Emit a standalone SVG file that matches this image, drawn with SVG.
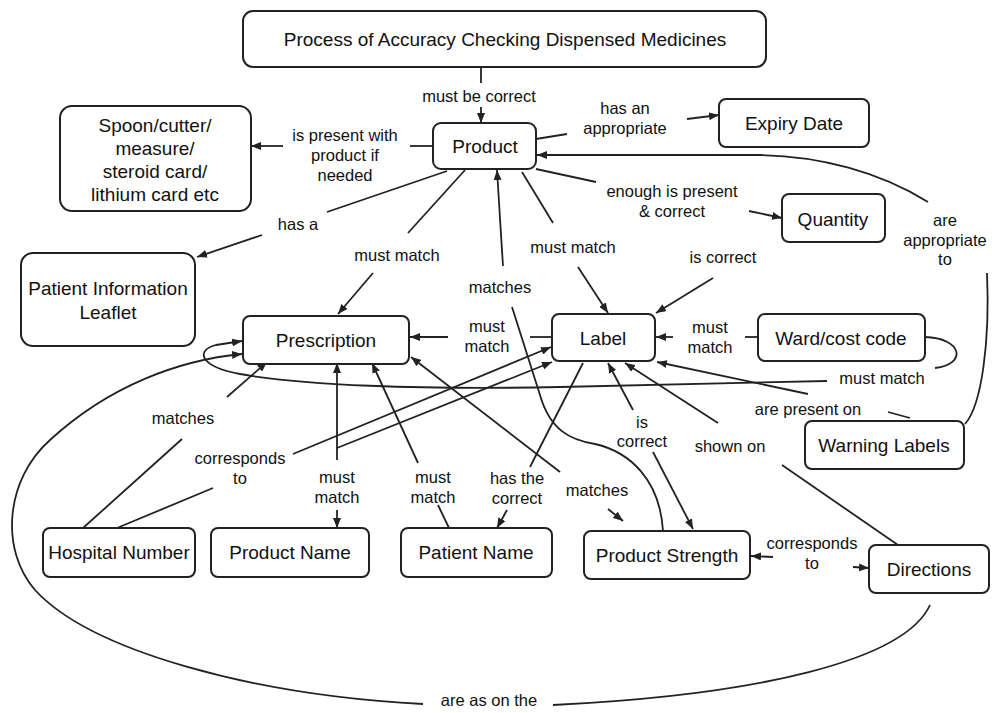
<svg xmlns="http://www.w3.org/2000/svg" width="992" height="713" viewBox="0 0 992 713">
  <style>
    .box { fill: #ffffff; stroke: #222222; stroke-width: 2; }
    .nt { font-family: "Liberation Sans", Arial, sans-serif; font-size: 19px; fill: #111111; text-anchor: middle; }
    .lt { font-family: "Liberation Sans", Arial, sans-serif; font-size: 16.5px; fill: #111111; text-anchor: middle; }
    .ln { fill: none; stroke: #222222; stroke-width: 1.8; }
    .ar { fill: none; stroke: #222222; stroke-width: 1.8; marker-end: url(#tip); }
  </style>
  <defs>
    <marker id="tip" markerUnits="userSpaceOnUse" markerWidth="10" markerHeight="8" refX="10" refY="4" orient="auto">
      <path d="M0,0 L10,4 L0,8 z" fill="#222222"/>
    </marker>
  </defs>
  <rect width="992" height="713" fill="#ffffff"/>

  <!-- connectors and their labels -->
  <g id="connectors">
    <!-- title -> product -->
    <line class="ln" x1="481" y1="68" x2="481" y2="83"/>
    <line class="ar" x1="481" y1="107" x2="481" y2="123"/>
    <text class="lt" x="479" y="102">must be correct</text>

    <!-- product -> spoon/cutter -->
    <line class="ln" x1="433" y1="146" x2="410" y2="146"/>
    <line class="ar" x1="283" y1="146" x2="251" y2="146"/>
    <text class="lt" x="345" y="141">is present with</text>
    <text class="lt" x="345" y="161">product if</text>
    <text class="lt" x="345" y="181">needed</text>

    <!-- product -> expiry date -->
    <line class="ln" x1="536" y1="139" x2="567" y2="134"/>
    <line class="ar" x1="687" y1="119" x2="719" y2="115"/>
    <text class="lt" x="625" y="114">has an</text>
    <text class="lt" x="625" y="134">appropriate</text>

    <!-- product -> quantity -->
    <line class="ln" x1="536" y1="169" x2="596" y2="182"/>
    <line class="ar" x1="749" y1="211" x2="782" y2="218"/>
    <text class="lt" x="672" y="197">enough is present</text>
    <text class="lt" x="672" y="217">&amp; correct</text>

    <!-- warning labels -> product -->
    <path class="ln" d="M965 424 C982 405 990 340 987 273"/>
    <path class="ar" d="M928 202 C880 172 820 156 760 155 L537 155"/>
    <text class="lt" x="945" y="226">are</text>
    <text class="lt" x="945" y="246">appropriate</text>
    <text class="lt" x="945" y="265">to</text>

    <!-- product -> patient information leaflet -->
    <line class="ln" x1="447" y1="171" x2="327" y2="212"/>
    <line class="ar" x1="262" y1="235" x2="197" y2="257"/>
    <text class="lt" x="298" y="230">has a</text>

    <!-- product -> prescription -->
    <line class="ln" x1="465" y1="170" x2="408" y2="233"/>
    <line class="ar" x1="373" y1="273" x2="338" y2="314"/>
    <text class="lt" x="397" y="261">must match</text>

    <!-- product strength -> product -->
    <line class="ar" x1="503" y1="266" x2="497" y2="170"/>
    <path class="ln" d="M512 307 L540 395 C550 430 570 440 595 444 C630 452 660 480 663 531"/>
    <text class="lt" x="500" y="293">matches</text>

    <!-- product -> label -->
    <line class="ln" x1="522" y1="172" x2="553" y2="223"/>
    <line class="ar" x1="578" y1="267" x2="608" y2="313"/>
    <text class="lt" x="573" y="253">must match</text>

    <!-- label -> prescription -->
    <line class="ln" x1="552" y1="337" x2="530" y2="337"/>
    <line class="ar" x1="448" y1="337" x2="410" y2="337"/>
    <text class="lt" x="487" y="332">must</text>
    <text class="lt" x="487" y="352">match</text>

    <!-- is correct -> label -->
    <line class="ar" x1="713" y1="278" x2="656" y2="313"/>
    <text class="lt" x="723" y="263">is correct</text>

    <!-- ward/cost code -> label -->
    <line class="ln" x1="758" y1="337" x2="745" y2="337"/>
    <line class="ar" x1="673" y1="337" x2="656" y2="337"/>
    <text class="lt" x="710" y="333">must</text>
    <text class="lt" x="710" y="353">match</text>

    <!-- ward/cost code -> prescription (loop) -->
    <path class="ln" d="M925 337 C962 338 968 364 935 368"/>
    <path class="ar" d="M827 381 L560 387 C420 390 300 385 240 374 C198 366 196 350 216 345 L242 341"/>
    <text class="lt" x="882" y="384">must match</text>

    <!-- warning labels -> label -->
    <line class="ln" x1="910" y1="418" x2="888" y2="412"/>
    <line class="ar" x1="808" y1="394" x2="657" y2="362"/>
    <text class="lt" x="808" y="415">are present on</text>

    <!-- directions -> label -->
    <line class="ln" x1="898" y1="545" x2="782" y2="465"/>
    <line class="ar" x1="718" y1="423" x2="625" y2="363"/>
    <text class="lt" x="730" y="452">shown on</text>

    <!-- product strength <-> label -->
    <line class="ar" x1="633" y1="410" x2="608" y2="363"/>
    <line class="ar" x1="653" y1="452" x2="693" y2="529"/>
    <text class="lt" x="642" y="428">is</text>
    <text class="lt" x="642" y="447">correct</text>

    <!-- label -> patient name -->
    <line class="ln" x1="583" y1="363" x2="530" y2="467"/>
    <line class="ar" x1="507" y1="510" x2="497" y2="528"/>
    <text class="lt" x="517" y="484">has the</text>
    <text class="lt" x="517" y="504">correct</text>

    <!-- prescription <-> product strength -->
    <line class="ar" x1="560" y1="472" x2="411" y2="357"/>
    <line class="ar" x1="608" y1="509" x2="623" y2="521"/>
    <text class="lt" x="597" y="496">matches</text>

    <!-- hospital number -> prescription -->
    <line class="ln" x1="83" y1="528" x2="182" y2="439"/>
    <line class="ar" x1="227" y1="397" x2="267" y2="362"/>
    <text class="lt" x="183" y="424">matches</text>

    <!-- hospital number -> label -->
    <line class="ln" x1="117" y1="528" x2="213" y2="488"/>
    <line class="ar" x1="293" y1="454" x2="551" y2="347"/>
    <text class="lt" x="240" y="464">corresponds</text>
    <text class="lt" x="240" y="484">to</text>

    <!-- product name -> prescription / label -->
    <line class="ar" x1="337" y1="460" x2="337" y2="363"/>
    <line class="ar" x1="337" y1="448" x2="552" y2="362"/>
    <line class="ar" x1="337" y1="510" x2="337" y2="528"/>
    <text class="lt" x="337" y="483">must</text>
    <text class="lt" x="337" y="503">match</text>

    <!-- patient name -> prescription -->
    <line class="ln" x1="449" y1="528" x2="438" y2="505"/>
    <line class="ar" x1="418" y1="463" x2="372" y2="363"/>
    <text class="lt" x="433" y="483">must</text>
    <text class="lt" x="433" y="503">match</text>

    <!-- directions -> prescription -->
    <path class="ln" d="M930 605 C905 660 760 695 553 705"/>
    <path class="ar" d="M423 704 C250 695 90 650 35 590 C0 550 5 480 50 440 C110 385 180 360 242 354"/>
    <text class="lt" x="489" y="706">are as on the</text>

    <!-- product strength <-> directions -->
    <line class="ar" x1="773" y1="557" x2="751" y2="556"/>
    <line class="ar" x1="853" y1="567" x2="869" y2="568"/>
    <text class="lt" x="812" y="549">corresponds</text>
    <text class="lt" x="812" y="569">to</text>
  </g>

  <!-- concepts -->
  <g id="title">
    <rect class="box" x="243" y="11" width="523" height="56" rx="10"/>
    <text class="nt" x="505" y="46">Process of Accuracy Checking Dispensed Medicines</text>
  </g>
  <g id="product">
    <rect class="box" x="433" y="123" width="103" height="46" rx="8"/>
    <text class="nt" x="485" y="153">Product</text>
  </g>
  <g id="spoon">
    <rect class="box" x="60" y="106" width="191" height="105" rx="12"/>
    <text class="nt" x="155" y="132">Spoon/cutter/</text>
    <text class="nt" x="155" y="155">measure/</text>
    <text class="nt" x="155" y="178">steroid card/</text>
    <text class="nt" x="155" y="201">lithium card etc</text>
  </g>
  <g id="expiry">
    <rect class="box" x="719" y="99" width="150" height="48" rx="7"/>
    <text class="nt" x="794" y="130">Expiry Date</text>
  </g>
  <g id="quantity">
    <rect class="box" x="782" y="194" width="103" height="48" rx="7"/>
    <text class="nt" x="833" y="226">Quantity</text>
  </g>
  <g id="leaflet">
    <rect class="box" x="21" y="253" width="174" height="93" rx="12"/>
    <text class="nt" x="108" y="295">Patient Information</text>
    <text class="nt" x="108" y="319">Leaflet</text>
  </g>
  <g id="prescription">
    <rect class="box" x="243" y="316" width="166" height="48" rx="7"/>
    <text class="nt" x="326" y="347">Prescription</text>
  </g>
  <g id="label">
    <rect class="box" x="552" y="314" width="103" height="47" rx="7"/>
    <text class="nt" x="603" y="345">Label</text>
  </g>
  <g id="ward">
    <rect class="box" x="758" y="314" width="167" height="47" rx="7"/>
    <text class="nt" x="841" y="345">Ward/cost code</text>
  </g>
  <g id="warning">
    <rect class="box" x="805" y="421" width="159" height="48" rx="7"/>
    <text class="nt" x="884" y="452">Warning Labels</text>
  </g>
  <g id="hospital-number">
    <rect class="box" x="43" y="528" width="152" height="49" rx="7"/>
    <text class="nt" x="119" y="559">Hospital Number</text>
  </g>
  <g id="product-name">
    <rect class="box" x="211" y="528" width="158" height="49" rx="7"/>
    <text class="nt" x="290" y="559">Product Name</text>
  </g>
  <g id="patient-name">
    <rect class="box" x="401" y="528" width="151" height="49" rx="7"/>
    <text class="nt" x="476" y="559">Patient Name</text>
  </g>
  <g id="product-strength">
    <rect class="box" x="584" y="531" width="166" height="48" rx="7"/>
    <text class="nt" x="667" y="562">Product Strength</text>
  </g>
  <g id="directions">
    <rect class="box" x="869" y="545" width="120" height="48" rx="7"/>
    <text class="nt" x="929" y="576">Directions</text>
  </g>
</svg>
